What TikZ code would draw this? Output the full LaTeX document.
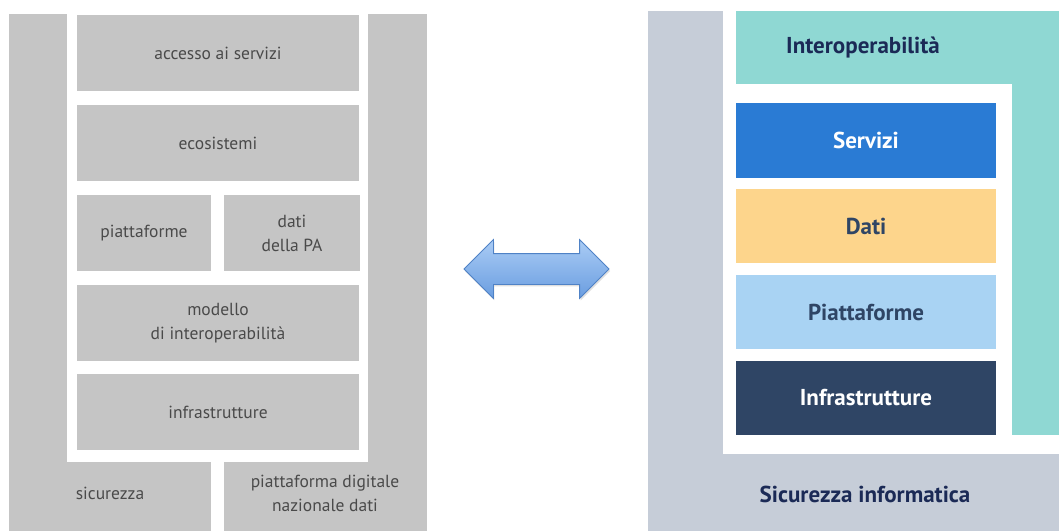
\documentclass[tikz,border=0pt]{standalone}
\usepackage{fontspec}
\setmainfont{PT Sans}
\usetikzlibrary{shapes.arrows,shadows}
\definecolor{grigio}{HTML}{C5C5C5}
\definecolor{testogrigio}{HTML}{4A4A4A}
\definecolor{ardesia}{HTML}{C6CDD8}
\definecolor{acqua}{HTML}{8FD8D3}
\definecolor{blu}{HTML}{2A7BD4}
\definecolor{giallo}{HTML}{FDD58C}
\definecolor{celeste}{HTML}{A9D3F3}
\definecolor{notte}{HTML}{2F4565}
\definecolor{navy}{HTML}{1B2A56}
\definecolor{frecciabordo}{HTML}{4F82C6}
\definecolor{frecciasu}{HTML}{AACCF5}
\definecolor{frecciagiu}{HTML}{6A9DE0}
\tikzset{vecchio/.style={text=testogrigio,align=center,font=\fontsize{17.5}{24}\selectfont},
  nuovo/.style={align=center,font=\fontsize{23}{26}\selectfont\bfseries}}

\begin{document}
\begin{tikzpicture}[x=1pt,y=-1pt]
\useasboundingbox (0,0) rectangle (1059,531);

% modello vecchio
\fill[grigio] (9,14) rectangle (427,531);
\fill[white] (67,0) rectangle (368,462);
\fill[white] (211,462) rectangle (224,531);
\foreach \ya/\yb in {15/91,105/181,285/361,374/450}
  {
    \fill[grigio] (77,\ya) rectangle (359,\yb);
  }
\fill[grigio] (77,195) rectangle (211,271);
\fill[grigio] (224,195) rectangle (360,271);

\node[vecchio] (accesso) at (218,53) {accesso ai servizi};
\node[vecchio] (ecosistemi) at (218,143) {ecosistemi};
\node[vecchio] (piatt) at (144,233) {piattaforme};
\node[vecchio] (datipa) at (292,233) {dati\\della PA};
\node[vecchio] (modello) at (218,323) {modello\\di interoperabilità};
\node[vecchio] (infra) at (218,412) {infrastrutture};
\node[vecchio] (sicurezza) at (110,493) {sicurezza};
\node[vecchio] (pdnd) at (325,493) {piattaforma digitale\\nazionale dati};

% freccia
\node[double arrow, draw=frecciabordo, line width=0.8pt, top color=frecciasu, bottom color=frecciagiu,
  double arrow tip angle=90, double arrow head extend=14pt, minimum height=145pt,
  inner xsep=0pt, inner ysep=15pt, text height=0pt, text depth=0pt,
  drop shadow={opacity=0.25,shadow xshift=1pt,shadow yshift=-2pt}] (scambio) at (536.5,269) {};

% modello nuovo
\fill[ardesia] (648,11) rectangle (1059,531);
\fill[white] (723,11) rectangle (1059,454);
\fill[acqua] (736,11) rectangle (1059,84);
\fill[acqua] (1012,84) rectangle (1059,435);
\node[nuovo,text=navy] (interop) at (863,48) {Interoperabilità};

\foreach \ya/\yb/\col/\txt/\nome in {103/178/blu/white/Servizi,189/263/giallo/notte/Dati,275/349/celeste/notte/Piattaforme,361/435/notte/white/Infrastrutture}
  {
    \fill[\col] (736,\ya) rectangle (996,\yb);
    \node[nuovo,text=\txt] (\nome) at (866,{(\ya+\yb)/2}) {\nome};
  }

\node[nuovo,text=navy] (sicinf) at (865,494) {Sicurezza informatica};
\end{tikzpicture}
\end{document}
